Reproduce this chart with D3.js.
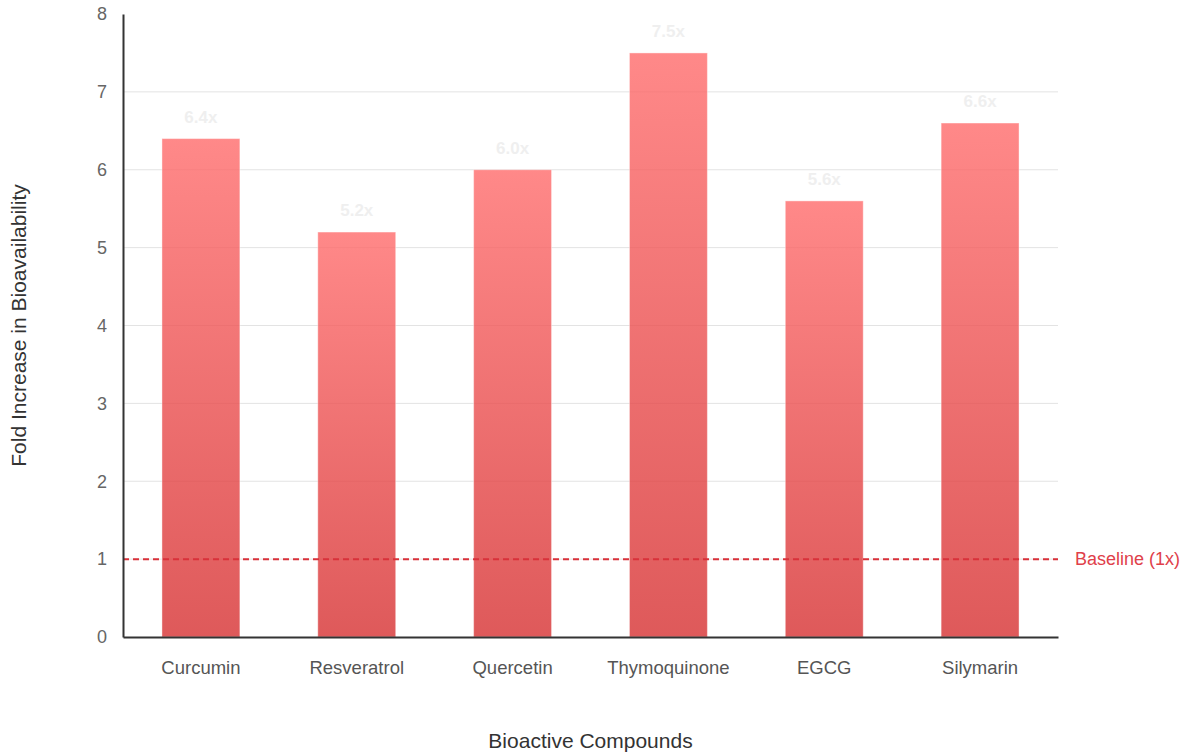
<!DOCTYPE html>
<html><head><meta charset="utf-8">
<script src="https://cdn.jsdelivr.net/npm/d3@7"></script>
<style>
body{margin:0;background:#fff;font-family:"Liberation Sans",Arial,Helvetica,sans-serif;}
svg{display:block}
</style></head>
<body><svg id="c" width="1190" height="752"></svg>
<script>
const categories = ["Curcumin","Resveratrol","Quercetin","Thymoquinone","EGCG","Silymarin"];
const values = [6.4, 5.2, 6.0, 7.5, 5.6, 6.6];
const valueLabels = ["6.4x","5.2x","6.0x","7.5x","5.6x","6.6x"];
const yTicks = [0,1,2,3,4,5,6,7,8];
const baselineValue = 1;
const baselineLabel = "Baseline (1x)";

const svg = d3.select("#c");
const m = {l:123, r:132, t:14, b:115};
const W = 1190, H = 752;
const x = d3.scaleBand().domain(categories).range([m.l, W - m.r]).paddingInner(0.5).paddingOuter(0.25);
const y = d3.scaleLinear().domain([0, 8]).range([H - m.b, m.t]);

const defs = svg.append("defs");
const g = defs.append("linearGradient").attr("id","bg").attr("x1",0).attr("y1",0).attr("x2",0).attr("y2",1);
g.append("stop").attr("offset","0%").attr("stop-color","#ff6b6b");
g.append("stop").attr("offset","100%").attr("stop-color","#d63031");

// gridlines
svg.append("g").selectAll("line").data(yTicks.filter(d => d > 0 && d < 8)).join("line")
  .attr("x1", m.l).attr("x2", W - m.r)
  .attr("y1", d => y(d)).attr("y2", d => y(d))
  .attr("stroke", "#e3e3e3").attr("stroke-width", 1);

// bars
svg.append("g").selectAll("rect").data(values).join("rect")
  .attr("x", (d,i) => x(categories[i]))
  .attr("width", x.bandwidth())
  .attr("y", d => y(d))
  .attr("height", d => y(0) - y(d))
  .attr("fill", "url(#bg)")
  .attr("fill-opacity", 0.8)
  .attr("stroke", "#ffffff").attr("stroke-opacity", 0.4).attr("stroke-width", 1);

// value labels (faint)
svg.append("g").selectAll("text").data(values).join("text")
  .attr("x", (d,i) => x(categories[i]) + x.bandwidth()/2)
  .attr("y", d => y(d) - 16)
  .attr("text-anchor", "middle")
  .attr("font-size", 17).attr("font-weight", "bold")
  .attr("fill", "#efefef")
  .text((d,i) => valueLabels[i]);

// baseline
svg.append("line")
  .attr("x1", m.l).attr("x2", W - m.r)
  .attr("y1", y(baselineValue)).attr("y2", y(baselineValue))
  .attr("stroke", "#d9313a").attr("stroke-width", 2).attr("stroke-dasharray", "6,4");
svg.append("text")
  .attr("x", W - m.r + 17).attr("y", y(baselineValue)).attr("dy", "0.35em")
  .attr("font-size", 18).attr("fill", "#e0404a").text(baselineLabel);

// y axis
const ya = svg.append("g").attr("transform", `translate(${m.l},0)`)
  .call(d3.axisLeft(y).tickValues(yTicks).tickSize(0).tickPadding(16).tickFormat(d3.format("d")));
ya.select(".domain").attr("stroke", "#333").attr("stroke-width", 2);
ya.selectAll("text").attr("font-size", 18).attr("fill", "#666").attr("font-family", "Liberation Sans, Arial, sans-serif");

// x axis
const xa = svg.append("g").attr("transform", `translate(0,${y(0)})`)
  .call(d3.axisBottom(x).tickSize(0).tickPadding(24));
xa.select(".domain").attr("stroke", "#333").attr("stroke-width", 2);
xa.selectAll("text").attr("font-size", 18.5).attr("fill", "#555").attr("font-family", "Liberation Sans, Arial, sans-serif");

// titles
svg.append("text")
  .attr("transform", `translate(26,${(m.t + H - m.b)/2}) rotate(-90)`)
  .attr("text-anchor", "middle").attr("font-size", 21).attr("fill", "#333")
  .text("Fold Increase in Bioavailability");
svg.append("text")
  .attr("x", (m.l + W - m.r)/2).attr("y", 748)
  .attr("text-anchor", "middle").attr("font-size", 21).attr("fill", "#333")
  .text("Bioactive Compounds");
</script></body></html>
